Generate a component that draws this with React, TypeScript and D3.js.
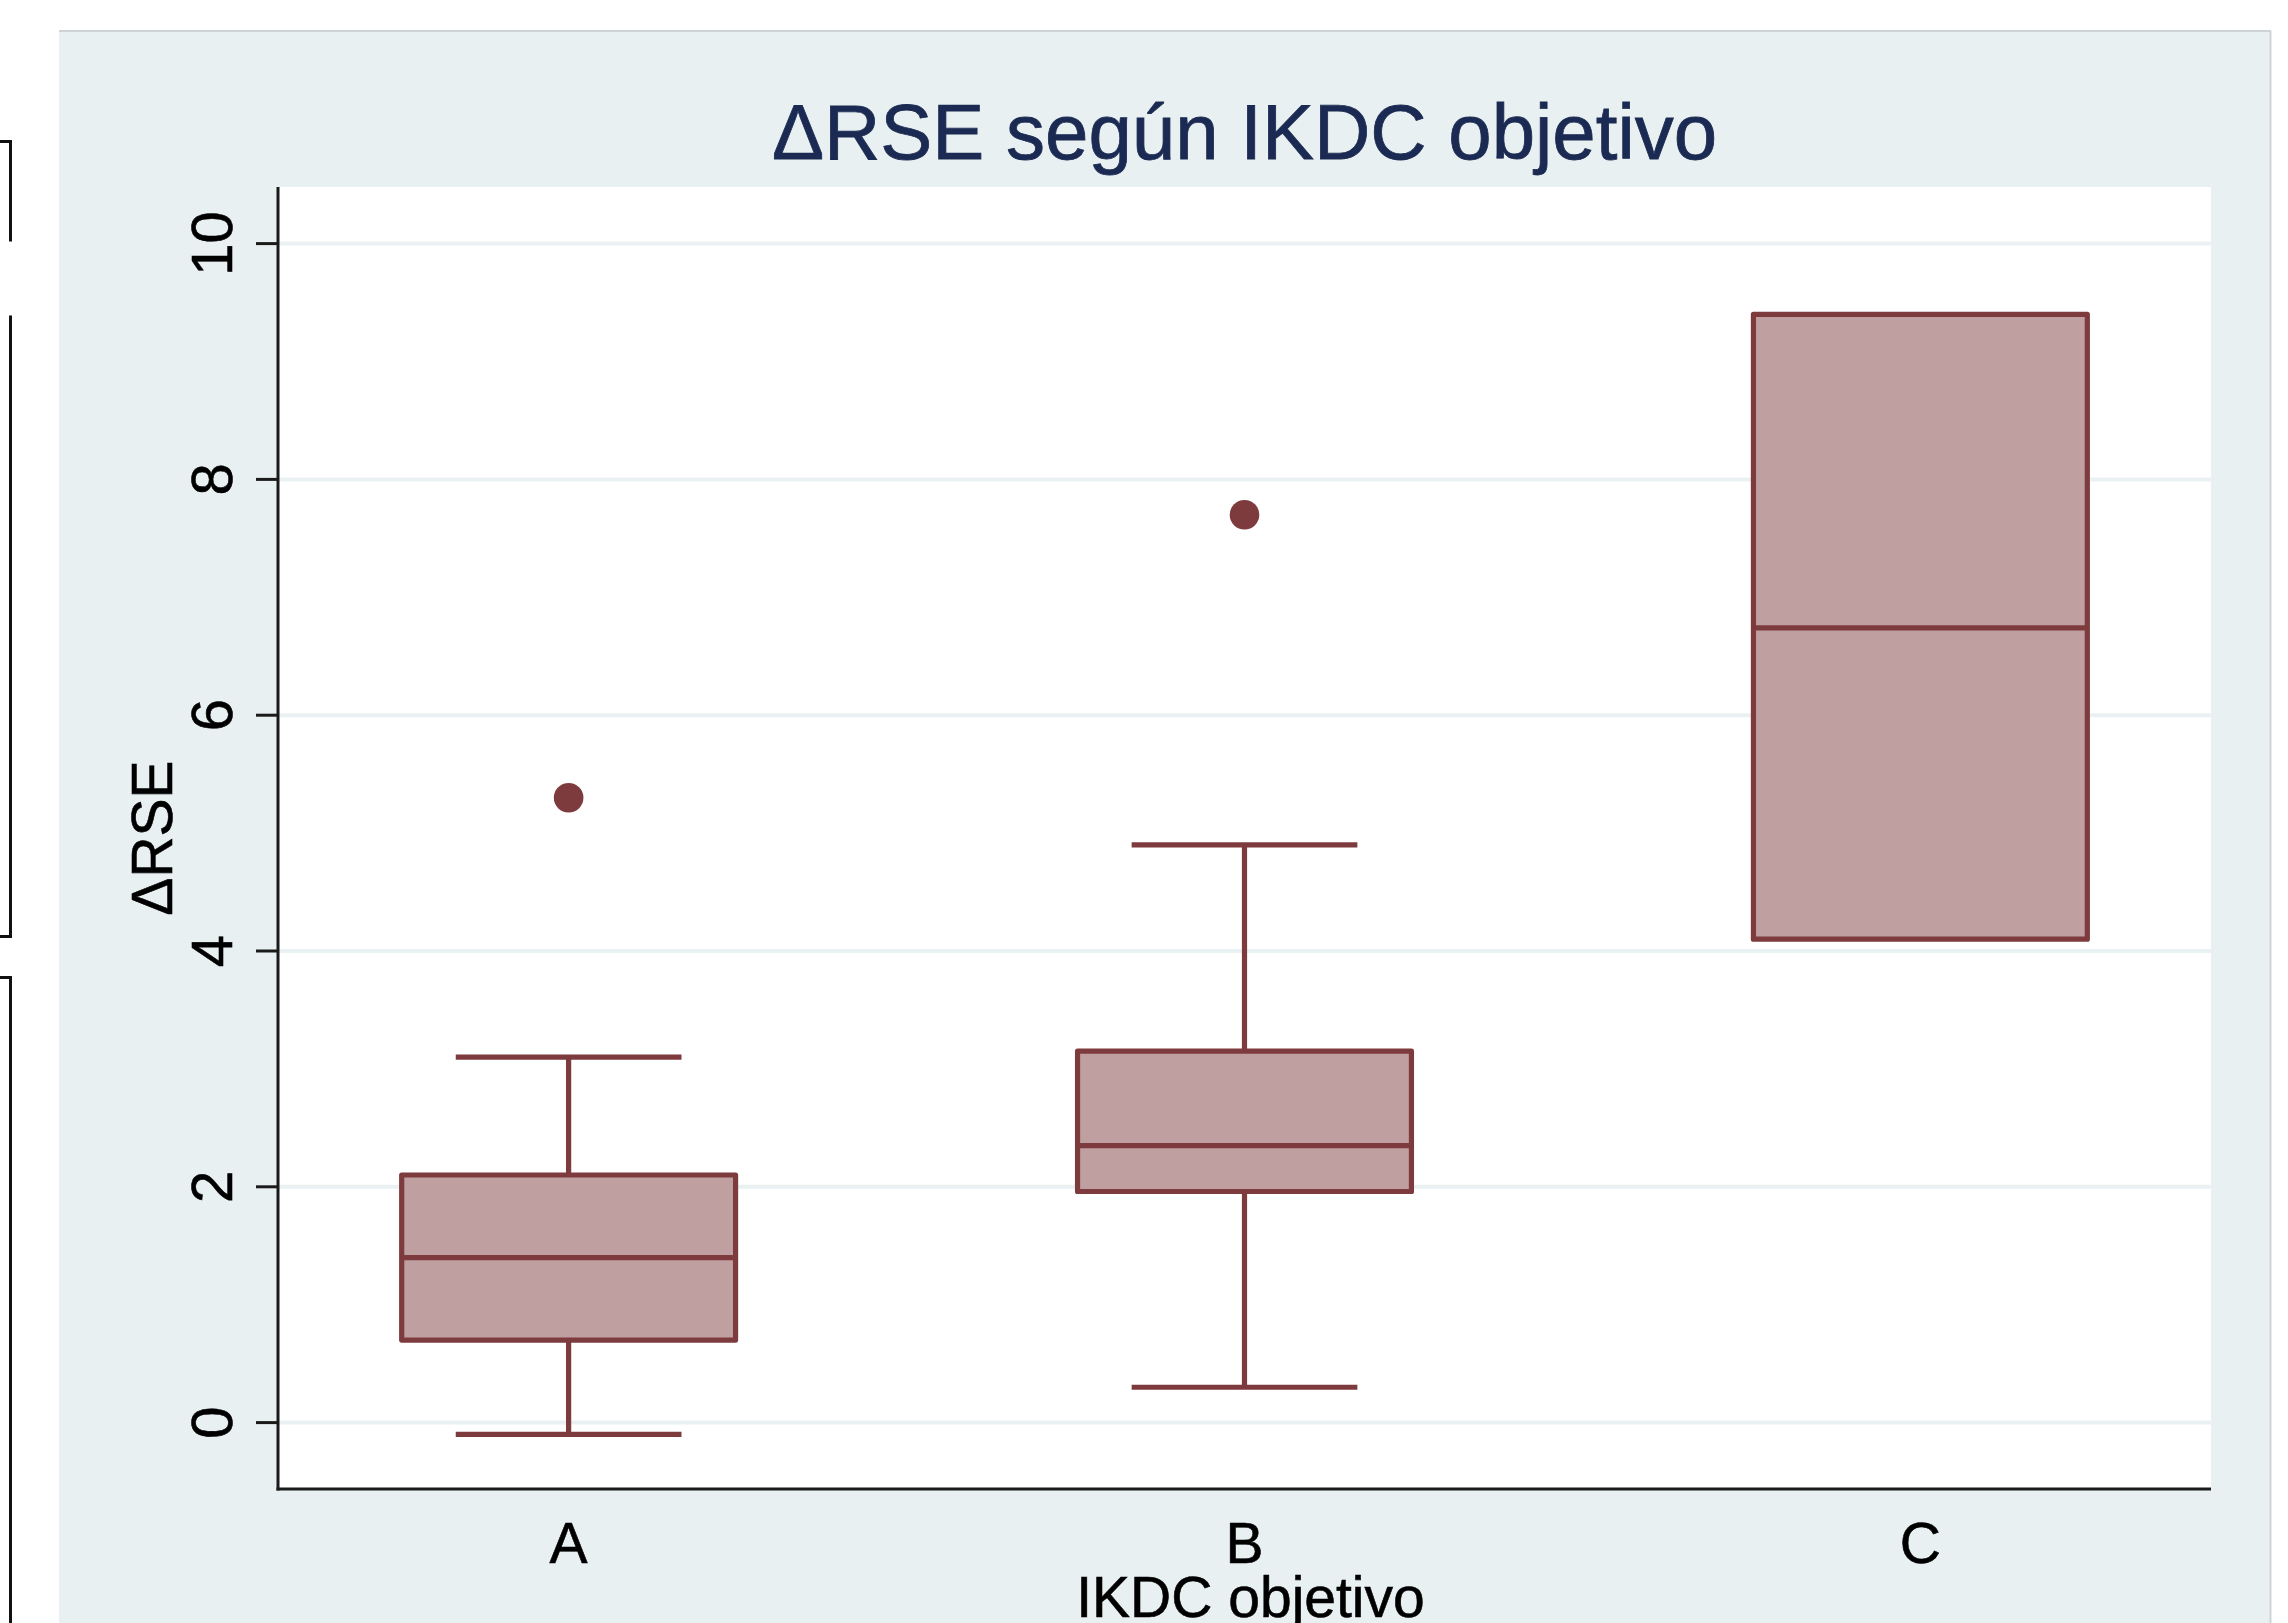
import React from "react";
import * as d3 from "d3";

// Groups and their box-plot summaries
const categories = ["A", "B", "C"];
const whiskerLow = [-0.1, 0.3, 4.1];
const q1 = [0.7, 1.96, 4.1];
const median = [1.4, 2.35, 6.74];
const q3 = [2.1, 3.15, 9.4];
const whiskerHigh = [3.1, 4.9, 9.4];
const outliers: { cat: string; value: number }[][] = [
  [{ cat: "A", value: 5.3 }],
  [{ cat: "B", value: 7.7 }],
  [],
];
const yTicks = [0, 2, 4, 6, 8, 10];

const title = "\u0394RSE según IKDC objetivo";
const yTitle = "\u0394RSE";
const xTitle = "IKDC objetivo";

const W = 2288;
const H = 1623;
const plotLeft = 278;
const plotRight = 2211;
const plotTop = 187;
const plotBottom = 1489;

const FONT = "'Liberation Sans', Arial, Helvetica, sans-serif";
const MAROON = "#7e3b3e";
const BOXFILL = "#c09fa1";
const PANEL = "#e8f0f2";
const GRID = "#e9f1f3";

export default function App() {
  const x = d3
    .scalePoint<string>()
    .domain(categories)
    .range([plotLeft, plotRight])
    .padding(0.43);
  const y = d3.scaleLinear().domain([0, 10]).range([1422.6, 243.6]);

  const step = x.step();
  const boxW = step * 0.494;
  const capW = step * 0.334;
  const sw = 5.2;

  return (
    <svg
      width={W}
      height={H}
      viewBox={`0 0 ${W} ${H}`}
      style={{ position: "absolute", left: 0, top: 0, display: "block", background: "#fff" }}
    >
      {/* frame lines on the left margin */}
      <g stroke="#111" strokeWidth={3} fill="none">
        <path d="M0,141.5 H10.5 V241.5" />
        <path d="M10.5,315.5 V936.5 H0" />
        <path d="M0,977.5 H10.5 V1623" />
      </g>

      {/* graph region */}
      <rect x={59} y={31} width={2211} height={H} fill={PANEL} />
      <line x1={59} x2={2271} y1={31} y2={31} stroke="#cfd3d5" strokeWidth={2} />
      <line x1={2270.5} x2={2270.5} y1={31} y2={H} stroke="#cfd3d5" strokeWidth={2} />

      {/* plot region */}
      <rect
        x={plotLeft}
        y={plotTop}
        width={plotRight - plotLeft}
        height={plotBottom - plotTop}
        fill="#fff"
      />

      {/* gridlines */}
      {yTicks.map((t) => (
        <line
          key={"g" + t}
          x1={plotLeft}
          x2={plotRight}
          y1={y(t)}
          y2={y(t)}
          stroke={GRID}
          strokeWidth={4}
        />
      ))}

      {/* boxes */}
      {categories.map((c, i) => {
        const cx = x(c)!;
        return (
          <g key={c} stroke={MAROON} strokeWidth={sw}>
            {whiskerHigh[i] > q3[i] && (
              <>
                <line x1={cx} x2={cx} y1={y(q3[i])} y2={y(whiskerHigh[i])} />
                <line x1={cx - capW / 2} x2={cx + capW / 2} y1={y(whiskerHigh[i])} y2={y(whiskerHigh[i])} />
              </>
            )}
            {whiskerLow[i] < q1[i] && (
              <>
                <line x1={cx} x2={cx} y1={y(q1[i])} y2={y(whiskerLow[i])} />
                <line x1={cx - capW / 2} x2={cx + capW / 2} y1={y(whiskerLow[i])} y2={y(whiskerLow[i])} />
              </>
            )}
            <rect
              x={cx - boxW / 2}
              y={y(q3[i])}
              width={boxW}
              height={y(q1[i]) - y(q3[i])}
              fill={BOXFILL}
              strokeLinejoin="round"
            />
            <line x1={cx - boxW / 2} x2={cx + boxW / 2} y1={y(median[i])} y2={y(median[i])} />
            {outliers[i].map((o, j) => (
              <circle key={j} cx={x(o.cat)!} cy={y(o.value)} r={14.8} fill={MAROON} stroke="none" />
            ))}
          </g>
        );
      })}

      {/* axes */}
      <line x1={plotLeft} x2={plotLeft} y1={plotTop} y2={plotBottom + 1.5} stroke="#1a1a1a" strokeWidth={3} />
      <line x1={plotLeft - 1.5} x2={plotRight} y1={plotBottom} y2={plotBottom} stroke="#1a1a1a" strokeWidth={3} />
      {yTicks.map((t) => (
        <g key={"t" + t}>
          <line x1={plotLeft - 22} x2={plotLeft} y1={y(t)} y2={y(t)} stroke="#1a1a1a" strokeWidth={3} />
          <text
            transform={`translate(232,${y(t)}) rotate(-90)`}
            textAnchor="middle"
            fontFamily={FONT}
            fontSize={58}
            fill="#000"
            stroke="#000"
            strokeWidth={0.6}
          >
            {t}
          </text>
        </g>
      ))}
      {categories.map((c) => (
        <text
          key={"x" + c}
          x={x(c)}
          y={1563}
          textAnchor="middle"
          fontFamily={FONT}
          fontSize={57}
          fill="#000"
          stroke="#000"
          strokeWidth={0.6}
        >
          {c}
        </text>
      ))}

      {/* titles */}
      <text
        x={(plotLeft + plotRight) / 2}
        y={159}
        textAnchor="middle"
        fontFamily={FONT}
        fontSize={78}
        fill="#1b2a52"
        stroke="#1b2a52"
        strokeWidth={0.8}
      >
        {title}
      </text>
      <text
        transform={`translate(172,${(plotTop + plotBottom) / 2}) rotate(-90)`}
        textAnchor="middle"
        fontFamily={FONT}
        fontSize={57}
        fill="#000"
        stroke="#000"
        strokeWidth={0.6}
      >
        {yTitle}
      </text>
      <text
        x={(plotLeft + plotRight) / 2 + 6}
        y={1617}
        textAnchor="middle"
        fontFamily={FONT}
        fontSize={57}
        fill="#000"
        stroke="#000"
        strokeWidth={0.6}
      >
        {xTitle}
      </text>
    </svg>
  );
}
